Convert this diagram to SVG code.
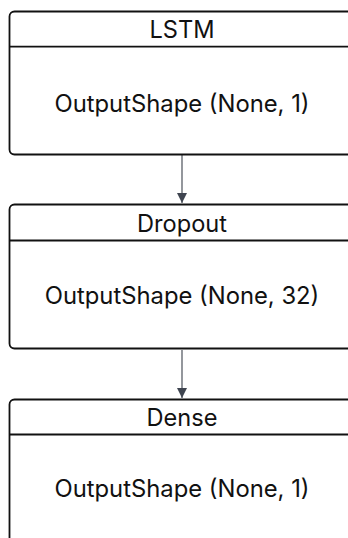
<svg xmlns="http://www.w3.org/2000/svg" width="348" height="538" viewBox="0 0 348 538">
  <style>
    .box { fill: #ffffff; stroke: #111111; stroke-width: 1.8; }
    .sep { stroke: #111111; stroke-width: 1.8; }
    .title { font-family: Inter, "Liberation Sans", sans-serif; font-size: 23.6px; fill: #111111; text-anchor: middle; }
    .body { font-family: Inter, "Liberation Sans", sans-serif; font-size: 23.8px; fill: #111111; text-anchor: middle; }
    .edge { stroke: #666b73; stroke-width: 1.4; fill: none; }
  </style>
  <defs>
    <marker id="arrow" viewBox="0 0 10 16" refX="10" refY="8" markerWidth="10" markerHeight="16" markerUnits="userSpaceOnUse" orient="auto">
      <path d="M0,3 L10,8 L0,13 Z" fill="#3f4550"/>
    </marker>
  </defs>
  <rect width="348" height="538" fill="#ffffff"/>

  <g id="connectors">
    <path class="edge" d="M182,155 L182,203" marker-end="url(#arrow)"/>
    <path class="edge" d="M182,350 L182,398" marker-end="url(#arrow)"/>
  </g>

  <g id="lstm">
    <rect class="box" x="9.5" y="11.5" width="360" height="143" rx="5"/>
    <line class="sep" x1="9.5" y1="46.7" x2="348" y2="46.7"/>
    <text class="title" x="182" y="38.3">LSTM</text>
    <text class="body" x="182" y="112">OutputShape (None, 1)</text>
  </g>

  <g id="dropout">
    <rect class="box" x="9.5" y="204.5" width="360" height="144" rx="5"/>
    <line class="sep" x1="9.5" y1="240.5" x2="348" y2="240.5"/>
    <text class="title" x="182" y="231.7">Dropout</text>
    <text class="body" x="182" y="304">OutputShape (None, 32)</text>
  </g>

  <g id="dense">
    <rect class="box" x="9.5" y="399.5" width="360" height="160" rx="5"/>
    <line class="sep" x1="9.5" y1="434.5" x2="348" y2="434.5"/>
    <text class="title" x="182" y="425.7">Dense</text>
    <text class="body" x="182" y="497">OutputShape (None, 1)</text>
  </g>
</svg>
